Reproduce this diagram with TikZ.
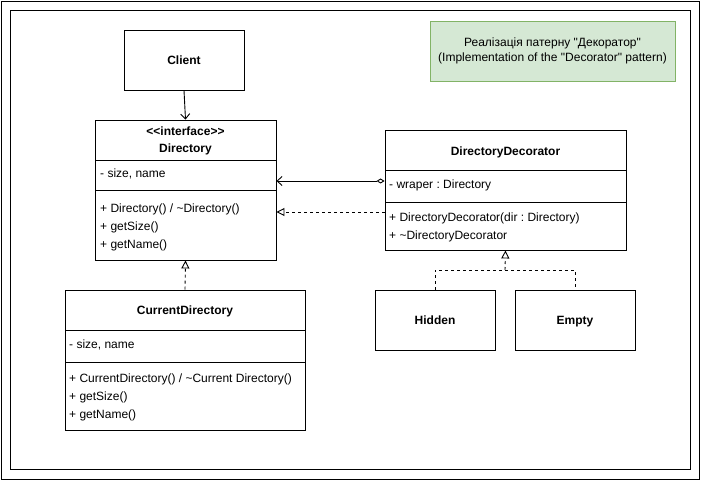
\documentclass[tikz,border=0pt]{standalone}
\usepackage{fontspec}
\setmainfont{Liberation Sans}[Ligatures=TeXOff]
\usetikzlibrary{arrows.meta}
\frenchspacing
\begin{document}
\begin{tikzpicture}[x=1pt,y=-1pt,
  box/.style={draw=black,line width=0.9pt,fill=white},
  txt/.style={anchor=base west,inner sep=0pt,font=\fontsize{12}{14}\selectfont},
  ttl/.style={anchor=base,inner sep=0pt,font=\bfseries\fontsize{12}{14}\selectfont,align=center},
  ln/.style={line width=0.9pt},
  dsh/.style={line width=0.9pt,dash pattern=on 3pt off 3pt}]
\useasboundingbox (0,0) rectangle (701,481);
\draw[line width=0.9pt] (1,1) rectangle (699,479);
\draw[line width=0.9pt] (10,10) rectangle (690,469);
% note
\node[draw={rgb,255:red,130;green,179;blue,102},fill={rgb,255:red,213;green,232;blue,212},line width=0.9pt,minimum width=245pt,minimum height=60pt,inner sep=0pt,align=center,font=\fontsize{12}{15}\selectfont] (note) at (552.5,51) {Реалізація патерну "Декоратор"\\(Implementation of the "Decorator" pattern)};
% Client
\node[box,minimum width=120pt,minimum height=60pt,inner sep=0pt] (client) at (184,60) {};
\node[ttl] (clientt) at (184,64.5) {Client};
% Directory
\node[box,minimum width=181pt,minimum height=140pt,inner sep=0pt] (dir) at (185.5,190) {};
\draw[ln] (95,160) -- (276,160);
\draw[ln] (95,190) -- (276,190);
\node[ttl] (dirt1) at (185.5,135.5) {<<interface>>};
\node[ttl] (dirt2) at (185.5,152.5) {Directory};
\node[txt] (dira) at (100,178) {- size, name};
\node[txt] (dirm1) at (100,212) {+ Directory() / \textasciitilde Directory()};
\node[txt] (dirm2) at (100,230) {+ getSize()};
\node[txt] (dirm3) at (100,248) {+ getName()};
% DirectoryDecorator
\node[box,minimum width=241pt,minimum height=120pt,inner sep=0pt] (dec) at (505.5,190) {};
\draw[ln] (385,170) -- (626,170);
\draw[ln] (385,202) -- (626,202);
\node[ttl] (dect) at (505.5,155.5) {DirectoryDecorator};
\node[txt] (deca) at (389,188.5) {- wraper : Directory};
\node[txt] (decm1) at (389,221.5) {+ DirectoryDecorator(dir : Directory)};
\node[txt] (decm2) at (389,239) {+ \textasciitilde DirectoryDecorator};
% CurrentDirectory
\node[box,minimum width=240pt,minimum height=140pt,inner sep=0pt] (cur) at (185,360) {};
\draw[ln] (65,330) -- (305,330);
\draw[ln] (65,362) -- (305,362);
\node[ttl] (curt) at (185,314.5) {CurrentDirectory};
\node[txt] (cura) at (69,348) {- size, name};
\node[txt] (curm1) at (69,382) {+ CurrentDirectory() / \textasciitilde Current Directory()};
\node[txt] (curm2) at (69,400) {+ getSize()};
\node[txt] (curm3) at (69,418) {+ getName()};
% Hidden, Empty
\node[box,minimum width=120pt,minimum height=60pt,inner sep=0pt] (hid) at (435,320) {};
\node[ttl] (hidt) at (435,324.5) {Hidden};
\node[box,minimum width=120pt,minimum height=60pt,inner sep=0pt] (emp) at (575,320) {};
\node[ttl] (empt) at (575,324.5) {Empty};
% connectors
\coordinate (j) at (505,270);
\draw[ln,-{Straight Barb[length=5pt,width=9pt]}] (client.south) -- (dir.north);
\draw[ln,{Diamond[open,length=8pt,width=5pt]}-{Straight Barb[length=5pt,width=9pt]}] (dec.west |- 0,181) -- (dir.east |- 0,181);
\draw[dsh,-{Triangle[open,length=8pt,width=8pt]}] (dec.west |- 0,212) -- (dir.east |- 0,212);
\draw[dsh,-{Triangle[open,length=8pt,width=8pt]}] (cur.north) -- (dir.south);
\draw[dsh] (hid.north) |- (j) -| (emp.north);
\draw[dsh,-{Triangle[open,length=8pt,width=8pt]}] (j) -- (dec.south);
\end{tikzpicture}
\end{document}
